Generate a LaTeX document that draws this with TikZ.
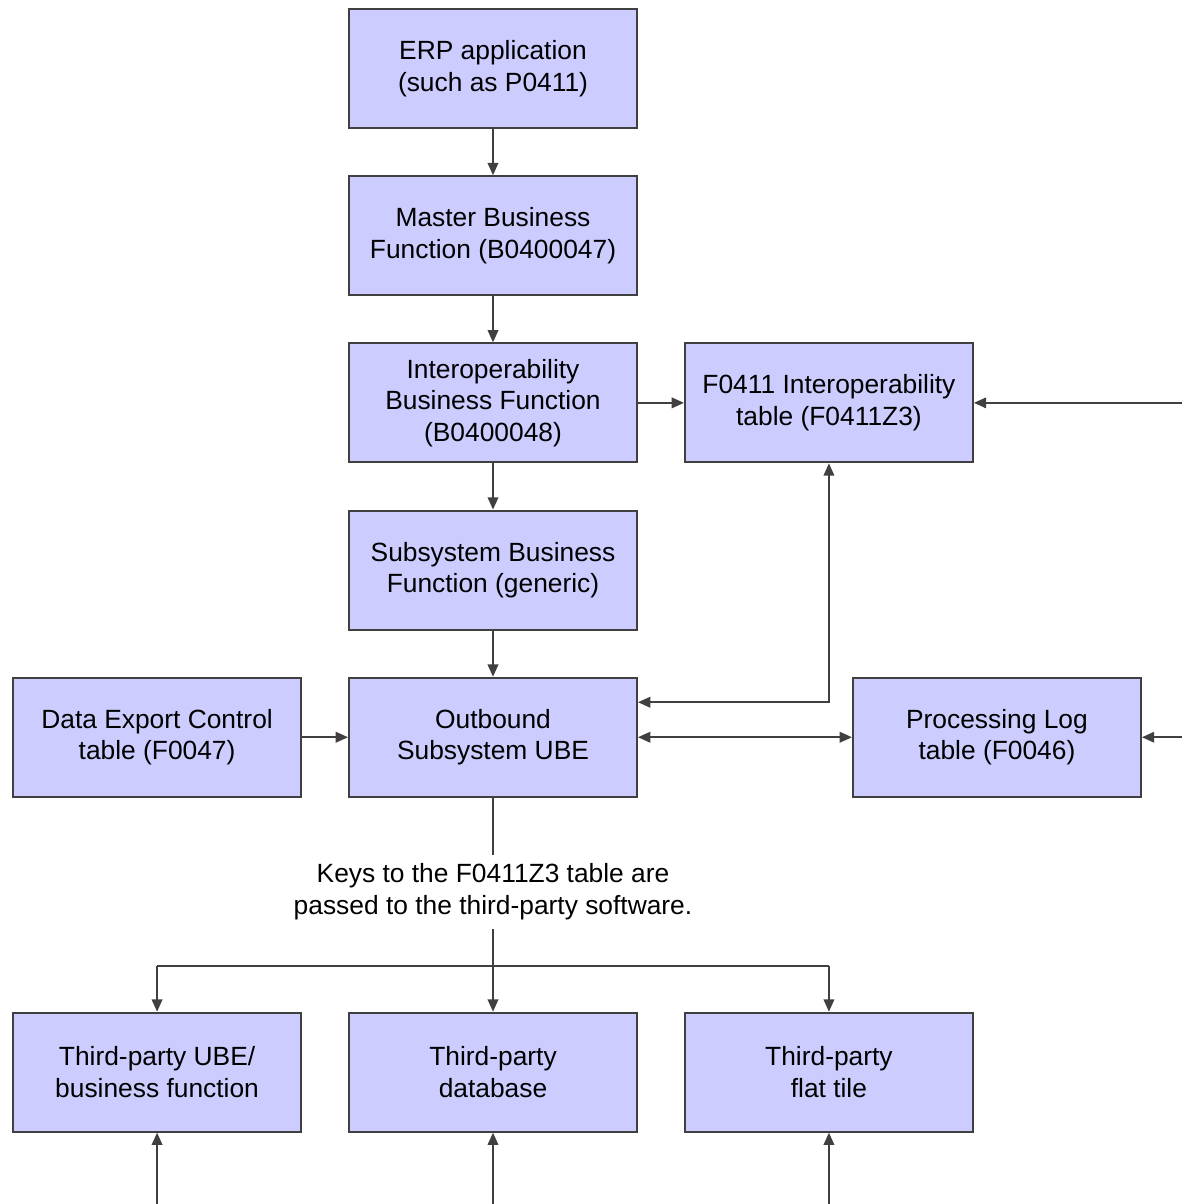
\documentclass[tikz,border=0pt]{standalone}
\usepackage{fontspec}
\setmainfont{Liberation Sans}
\usepackage{tikz}
\usepackage{xcolor}
\usetikzlibrary{positioning,calc,arrows.meta}
\definecolor{boxfill}{HTML}{CCCCFF}
\definecolor{edgegray}{HTML}{404040}

\begin{document}
\begin{tikzpicture}[
	>={Triangle[length=7pt,width=6pt]},
	box/.style={draw=edgegray, fill=boxfill, line width=1.1pt, minimum width=5.76cm, minimum height=2.38cm, align=center, inner sep=2pt, font=\fontsize{15}{18}\selectfont},
	flow/.style={line width=1.1pt, draw=edgegray},
	note/.style={align=center, inner sep=5pt, font=\fontsize{15}{18}\selectfont}
	]
	\useasboundingbox (0,0) rectangle (23.64,-24.08);
	\coordinate (rim) at (23.64,-24.08);

	% main column
	\node[box] (erp) at (9.86,-1.37) {ERP application\\(such as P0411)};
	\node[box, below=0.925cm of erp] (master) {Master Business\\Function (B0400047)};
	\node[box, below=0.925cm of master] (interop) {Interoperability\\Business Function\\(B0400048)};
	\node[box, below=0.925cm of interop] (subsys) {Subsystem Business\\Function (generic)};
	\node[box, below=0.925cm of subsys] (outbound) {Outbound\\Subsystem UBE};

	% tables
	\node[box, left=0.92cm of outbound] (export) {Data Export Control\\table (F0047)};
	\node[box, right=0.92cm of interop] (ztable) {F0411 Interoperability\\table (F0411Z3)};
	\node[box, right=4.28cm of outbound] (proclog) {Processing Log\\table (F0046)};

	% third-party row
	\node[note, below=1.14cm of outbound] (keys) {Keys to the F0411Z3 table are\\passed to the third-party software.};
	\node[box, below=4.28cm of outbound] (tpdb) {Third-party\\database};
	\node[box, left=0.92cm of tpdb] (tpube) {Third-party UBE/\\business function};
	\node[box, right=0.92cm of tpdb] (tpfile) {Third-party\\flat tile};
	\coordinate (split) at ($(outbound.south)+(0,-3.36)$);

	\draw[->, flow] (erp) -- (master);
	\draw[->, flow] (master) -- (interop);
	\draw[->, flow] (interop) -- (subsys);
	\draw[->, flow] (subsys) -- (outbound);
	\draw[->, flow] (interop) -- (ztable);
	\draw[->, flow] (export) -- (outbound);
	\draw[<->, flow] (outbound) -- (proclog);
	\draw[<->, flow] ($(outbound.east)+(0,0.7)$) -| (ztable.south);
	\draw[->, flow] (ztable.east -| rim) -- (ztable.east);
	\draw[->, flow] (proclog.east -| rim) -- (proclog.east);

	\draw[flow] (outbound.south) -- (keys.north);
	\draw[flow] (keys.south) -- (split);
	\draw[->, flow] (split) -- (tpdb);
	\draw[->, flow] (tpube.north |- split) -| (tpube.north);
	\draw[->, flow] (tpfile.north |- split) -| (tpfile.north);
	\draw[flow] (tpube.north |- split) -- (tpfile.north |- split);

	\foreach \tp in {tpube,tpdb,tpfile}
	{
		\draw[->, flow] (\tp.south |- rim) -- (\tp.south);
	}
\end{tikzpicture}
\end{document}
